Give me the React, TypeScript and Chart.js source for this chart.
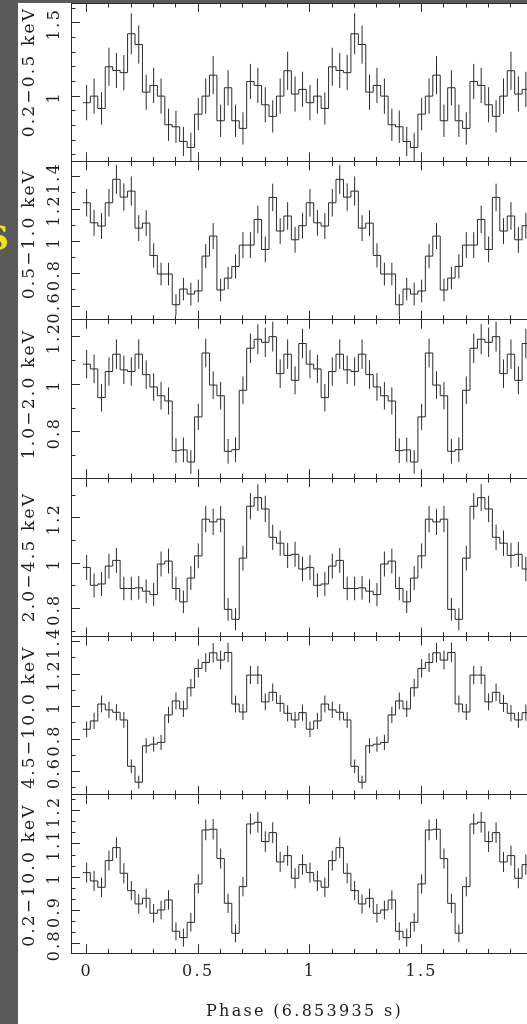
import { useEffect, useRef } from "react";
import { Chart, registerables } from "chart.js";

Chart.register(...registerables);

const W = 527;
const H = 1024;
const CANVAS_W = 538; // the figure continues past the right edge of the page

// ---- x axis (phase) ----
const BINS_PER_CYCLE = 30;
const CYCLES = 2;
const X_MIN = -0.07;
const X_MAX = 2.0211;
const X_TICK_LABELS = [0, 0.5, 1, 1.5];
const X_MINOR_STEP = 0.1;
const X_TITLE = "Phase (6.853935 s)";

// ---- energy bands ----
const BAND_LABELS = ["0.2−0.5 keV", "0.5−1.0 keV", "1.0−2.0 keV", "2.0−4.5 keV", "4.5−10.0 keV", "0.2−10.0 keV"];

// normalised rates, one phase cycle (30 bins), shown twice
const RATE_02_05 = [0.955, 1.0, 0.916, 1.2, 1.175, 1.16, 1.425, 1.352, 1.027, 1.073, 1.0, 0.805, 0.791, 0.691, 0.65, 0.877, 1.0, 1.143, 0.832, 1.057, 0.832, 0.78, 1.1, 1.073, 0.941, 0.862, 1.0, 1.173, 1.014, 1.046];
const ERR_02_05 = [0.12, 0.12, 0.11, 0.13, 0.12, 0.12, 0.14, 0.13, 0.12, 0.12, 0.12, 0.11, 0.11, 0.1, 0.1, 0.11, 0.12, 0.13, 0.11, 0.12, 0.11, 0.11, 0.12, 0.12, 0.12, 0.11, 0.12, 0.13, 0.12, 0.12];

const RATE_05_10 = [1.239, 1.115, 1.095, 1.239, 1.384, 1.274, 1.311, 1.082, 1.113, 0.913, 0.798, 0.798, 0.608, 0.705, 0.674, 0.693, 0.909, 1.033, 0.699, 0.773, 0.845, 0.977, 0.977, 1.136, 0.95, 1.272, 1.064, 1.157, 1.01, 1.097];
const ERR_05_10 = [0.085, 0.08, 0.08, 0.085, 0.09, 0.085, 0.09, 0.08, 0.08, 0.075, 0.07, 0.07, 0.065, 0.07, 0.07, 0.07, 0.075, 0.08, 0.07, 0.07, 0.075, 0.08, 0.08, 0.085, 0.08, 0.085, 0.08, 0.085, 0.08, 0.08];

const RATE_10_20 = [1.085, 1.065, 0.944, 1.054, 1.127, 1.061, 1.054, 1.127, 1.041, 0.989, 0.952, 0.93, 0.721, 0.724, 0.673, 0.863, 1.132, 0.997, 0.952, 0.718, 0.725, 0.975, 1.152, 1.19, 1.177, 1.201, 1.045, 1.127, 1.017, 1.172];
const ERR_10_20 = [0.06, 0.06, 0.058, 0.06, 0.062, 0.06, 0.06, 0.062, 0.06, 0.058, 0.058, 0.057, 0.052, 0.052, 0.05, 0.055, 0.06, 0.058, 0.058, 0.052, 0.052, 0.058, 0.062, 0.063, 0.062, 0.063, 0.06, 0.062, 0.059, 0.062];

const RATE_20_45 = [0.981, 0.902, 0.908, 0.987, 1.012, 0.888, 0.888, 0.891, 0.876, 0.861, 0.996, 1.009, 0.888, 0.829, 0.934, 1.032, 1.194, 1.182, 1.194, 0.796, 0.752, 1.022, 1.251, 1.289, 1.239, 1.114, 1.088, 1.034, 1.039, 0.974];
const ERR_20_45 = [0.055, 0.053, 0.053, 0.055, 0.055, 0.052, 0.052, 0.052, 0.052, 0.051, 0.055, 0.055, 0.052, 0.05, 0.053, 0.055, 0.058, 0.058, 0.058, 0.05, 0.049, 0.055, 0.058, 0.059, 0.058, 0.056, 0.056, 0.055, 0.055, 0.054];

const RATE_45_100 = [0.861, 0.912, 1.016, 0.98, 0.965, 0.918, 0.633, 0.535, 0.759, 0.769, 0.78, 0.949, 1.035, 0.986, 1.116, 1.235, 1.271, 1.331, 1.286, 1.333, 1.016, 0.967, 1.194, 1.194, 1.029, 1.088, 1.02, 0.959, 0.918, 0.963];
const ERR_45_100 = [0.048, 0.05, 0.052, 0.05, 0.05, 0.049, 0.042, 0.04, 0.046, 0.046, 0.047, 0.05, 0.052, 0.05, 0.054, 0.057, 0.058, 0.06, 0.058, 0.06, 0.052, 0.05, 0.056, 0.056, 0.052, 0.054, 0.052, 0.05, 0.049, 0.05];

const RATE_02_100 = [1.014, 0.989, 0.97, 1.05, 1.089, 1.012, 0.96, 0.92, 0.937, 0.892, 0.902, 0.932, 0.838, 0.819, 0.865, 0.98, 1.142, 1.144, 1.056, 0.922, 0.832, 0.972, 1.16, 1.165, 1.107, 1.134, 1.046, 1.065, 0.997, 1.038];
const ERR_02_100 = [0.03, 0.03, 0.029, 0.03, 0.031, 0.03, 0.029, 0.029, 0.029, 0.028, 0.028, 0.029, 0.027, 0.027, 0.028, 0.029, 0.031, 0.031, 0.03, 0.029, 0.027, 0.029, 0.031, 0.031, 0.031, 0.031, 0.03, 0.03, 0.03, 0.03];

// ---- y axes ----
const Y_MIN = [0.555, 0.515, 0.605, 0.676, 0.457, 0.772];
const Y_MAX = [1.635, 1.495, 1.272, 1.375, 1.431, 1.247];
const Y_TICK_LABELS = [
  [1, 1.5],
  [0.6, 0.8, 1, 1.2, 1.4],
  [0.8, 1, 1.2],
  [0.8, 1, 1.2],
  [0.6, 0.8, 1, 1.2, 1.4],
  [0.8, 0.9, 1, 1.1, 1.2],
];
const Y_MINOR_STEP = [0.1, 0.1, 0.1, 0.1, 0.1, 1 / 30];

const RATES = [RATE_02_05, RATE_05_10, RATE_10_20, RATE_20_45, RATE_45_100, RATE_02_100];
const ERRS = [ERR_02_05, ERR_05_10, ERR_10_20, ERR_20_45, ERR_45_100, ERR_02_100];

// ---- style / layout ----
const STRIP = "#5a5a5a";
const INK = "#1e1e1e";
const LINE = "#2b2b2b";
const FONT_FAMILY = '"DejaVu Serif", serif';
const FONT_SIZE = 16;
const TITLE_FONT_SIZE = 17;
const LETTER_SPACING = "2.3px";
const TITLE_LETTER_SPACING = "2.2px";
const MAJOR_LEN = 9;
const MINOR_LEN = 4.5;
const PLOT_LEFT = 71;
const PLOT_TOP = 3;
const TICK_LABEL_BASE_X = 58.8;
const TITLE_BASE_X = 34;
const TITLE_CENTER_Y = [72, 234, 394, 557, 717, 875];

function buildSteps(vals: number[]) {
  const half = 1 / (2 * BINS_PER_CYCLE);
  const pts: { x: number; y: number }[] = [{ x: -half, y: vals[0] }];
  for (let c = 0; c < CYCLES; c++) {
    for (let k = 0; k < vals.length; k++) {
      pts.push({ x: c + k / BINS_PER_CYCLE, y: vals[k] });
    }
  }
  pts.push({ x: CYCLES - 1 + (vals.length - 1) / BINS_PER_CYCLE + half, y: vals[vals.length - 1] });
  return pts;
}

function buildErrors(vals: number[], errs: number[]) {
  const pts: { x: number; y: number | null }[] = [];
  for (let c = 0; c < CYCLES; c++) {
    for (let k = 0; k < vals.length; k++) {
      const x = c + k / BINS_PER_CYCLE;
      pts.push({ x, y: vals[k] - errs[k] });
      pts.push({ x, y: vals[k] + errs[k] });
      pts.push({ x, y: null });
    }
  }
  return pts;
}

const snap = (v: number) => Math.round(v - 0.5) + 0.5;

const framePlugin = {
  id: "frame",
  beforeDraw(chart: any) {
    const ctx = chart.ctx;
    ctx.save();
    ctx.fillStyle = STRIP;
    ctx.fillRect(0, 0, CANVAS_W, H);
    ctx.fillStyle = "#ffffff";
    ctx.fillRect(18, 3, CANVAS_W - 18, H - 3);
    ctx.fillStyle = "#f2e21a";
    ctx.font = `bold 34px ${FONT_FAMILY}`;
    ctx.textAlign = "right";
    ctx.textBaseline = "alphabetic";
    ctx.fillText("S", 9, 250);
    ctx.restore();
    ctx.letterSpacing = LETTER_SPACING;
  },
  afterDraw(chart: any) {
    const ctx = chart.ctx;
    const xs = chart.scales.x;
    const { left, right } = chart.chartArea;
    ctx.save();
    ctx.strokeStyle = LINE;
    ctx.lineWidth = 1;
    ctx.fillStyle = INK;
    for (let i = 0; i < RATES.length; i++) {
      const ys = chart.scales["y" + i];
      const top = ys.top;
      const bot = ys.bottom;
      ctx.beginPath();
      ctx.moveTo(left, snap(top));
      ctx.lineTo(right, snap(top));
      ctx.moveTo(left, snap(bot));
      ctx.lineTo(right, snap(bot));
      ctx.moveTo(snap(left), top);
      ctx.lineTo(snap(left), bot);
      const k0 = Math.ceil(X_MIN / X_MINOR_STEP - 1e-9);
      const k1 = Math.floor(X_MAX / X_MINOR_STEP + 1e-9);
      for (let k = k0; k <= k1; k++) {
        const v = k * X_MINOR_STEP;
        const major = k % 5 === 0;
        const len = major ? MAJOR_LEN : MINOR_LEN;
        const px = snap(xs.getPixelForValue(v));
        ctx.moveTo(px, top);
        ctx.lineTo(px, top + len);
        ctx.moveTo(px, bot);
        ctx.lineTo(px, bot - len);
      }
      const step = Y_MINOR_STEP[i];
      const j0 = Math.ceil(Y_MIN[i] / step - 1e-9);
      const j1 = Math.floor(Y_MAX[i] / step + 1e-9);
      for (let j = j0; j <= j1; j++) {
        const v = j * step;
        const major = Y_TICK_LABELS[i].some((t) => Math.abs(t - v) < 1e-6);
        const len = major ? MAJOR_LEN : MINOR_LEN;
        const py = snap(ys.getPixelForValue(v));
        ctx.moveTo(left, py);
        ctx.lineTo(left + len, py);
      }
      ctx.stroke();

      ctx.textAlign = "center";
      ctx.textBaseline = "alphabetic";
      ctx.font = `${FONT_SIZE}px ${FONT_FAMILY}`;
      ctx.letterSpacing = LETTER_SPACING;
      for (const t of Y_TICK_LABELS[i]) {
        const py = ys.getPixelForValue(t);
        ctx.save();
        ctx.translate(TICK_LABEL_BASE_X, py + 1.2);
        ctx.rotate(-Math.PI / 2);
        ctx.fillText(String(t), 0, 0);
        ctx.restore();
      }
      ctx.font = `${TITLE_FONT_SIZE}px ${FONT_FAMILY}`;
      ctx.letterSpacing = TITLE_LETTER_SPACING;
      ctx.save();
      ctx.translate(TITLE_BASE_X, TITLE_CENTER_Y[i]);
      ctx.rotate(-Math.PI / 2);
      ctx.fillText(BAND_LABELS[i], 0, 0);
      ctx.restore();
    }
    ctx.restore();
  },
};

export default function App() {
  const ref = useRef<HTMLCanvasElement | null>(null);
  useEffect(() => {
    if (!ref.current) return;
    const datasets: any[] = [];
    const scales: any = {
      x: {
        type: "linear",
        position: "bottom",
        min: X_MIN,
        max: X_MAX,
        afterBuildTicks: (s: any) => {
          s.ticks = X_TICK_LABELS.map((v) => ({ value: v }));
        },
        ticks: {
          autoSkip: false,
          maxRotation: 0,
          minRotation: 0,
          padding: 9,
          color: INK,
          font: { family: FONT_FAMILY, size: FONT_SIZE },
          callback: (v: any) => String(v),
        },
        grid: { display: false, drawTicks: false },
        border: { display: false },
        title: {
          display: true,
          text: X_TITLE,
          color: INK,
          font: { family: FONT_FAMILY, size: FONT_SIZE },
          padding: { top: 11.6, bottom: 2.7 },
        },
      },
    };
    RATES.forEach((vals, i) => {
      const id = "y" + i;
      scales[id] = {
        type: "linear",
        position: "left",
        display: false,
        min: Y_MIN[i],
        max: Y_MAX[i],
        stack: "bands",
        stackWeight: 1,
        weight: 10 - i,
      };
      datasets.push({
        label: BAND_LABELS[i],
        data: buildSteps(vals),
        yAxisID: id,
        stepped: "middle",
        borderColor: LINE,
        borderWidth: 1,
        pointRadius: 0,
        fill: false,
      });
      datasets.push({
        label: BAND_LABELS[i] + " err",
        data: buildErrors(vals, ERRS[i]),
        yAxisID: id,
        borderColor: LINE,
        borderWidth: 1,
        pointRadius: 0,
        fill: false,
        spanGaps: false,
      });
    });
    const chart = new Chart(ref.current, {
      type: "line",
      data: { datasets },
      options: {
        responsive: false,
        animation: false,
        events: [],
        layout: { padding: { left: PLOT_LEFT, top: PLOT_TOP, right: 0, bottom: 0 } },
        plugins: { legend: { display: false }, tooltip: { enabled: false } },
        scales,
      },
      plugins: [framePlugin],
    });
    return () => chart.destroy();
  }, []);
  return (
    <div style={{ position: "absolute", left: 0, top: 0, width: W, height: H, overflow: "hidden" }}>
      <div style={{ position: "relative", width: CANVAS_W, height: H }}>
        <canvas ref={ref} width={CANVAS_W} height={H} style={{ display: "block", width: CANVAS_W, height: H }} />
      </div>
    </div>
  );
}
